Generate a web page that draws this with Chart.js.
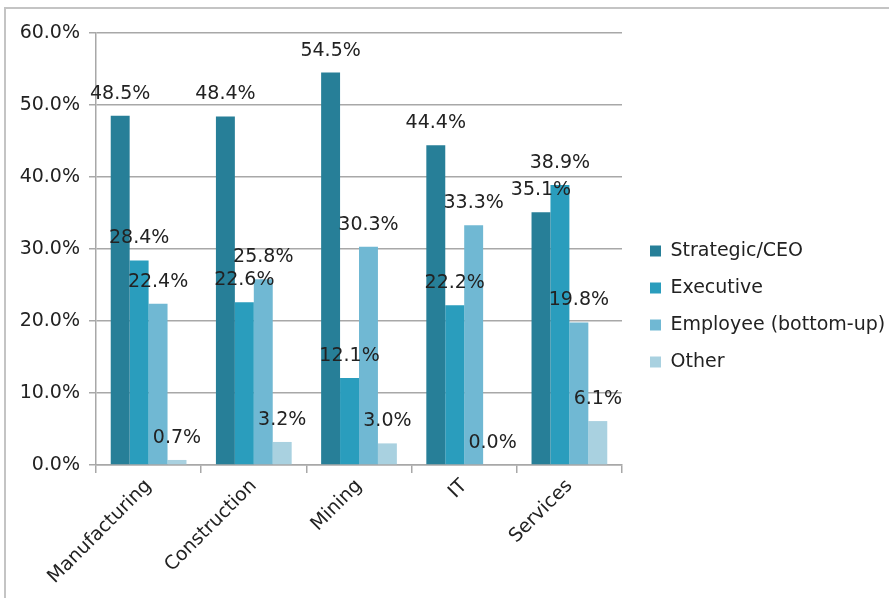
<!DOCTYPE html>
<html>
<head>
<meta charset="utf-8">
<script src="https://cdn.jsdelivr.net/npm/chart.js@4"></script>
<style>
  html, body { margin: 0; padding: 0; background: #fff; }
  #wrap { width: 889px; height: 598px; }
</style>
</head>
<body>
<div id="wrap"><canvas id="approachChart" width="889" height="598"></canvas></div>
<script>
// Share of responses per industry, in percent
const industries = ['Manufacturing', 'Construction', 'Mining', 'IT', 'Services'];
const strategicCeo = [48.5, 48.4, 54.5, 44.4, 35.1];
const executive = [28.4, 22.6, 12.1, 22.2, 38.9];
const employee = [22.4, 25.8, 30.3, 33.3, 19.8];
const other = [0.7, 3.2, 3.0, 0.0, 6.1];
const seriesNames = ['Strategic/CEO', 'Executive', 'Employee (bottom-up)', 'Other'];
const yTicks = [0, 10, 20, 30, 40, 50, 60];

const FONT = 'DejaVu Sans';
const TEXT = '#222';
const GRID = '#a8a8a8';
const LEGEND_WIDTH = 267;

// value above every bar
const valueLabels = {
  id: 'valueLabels',
  afterDatasetsDraw(chart) {
    const ctx = chart.ctx;
    ctx.save();
    ctx.font = '19px "' + FONT + '"';
    ctx.fillStyle = TEXT;
    ctx.textAlign = 'center';
    ctx.textBaseline = 'middle';
    chart.data.datasets.forEach((ds, di) => {
      chart.getDatasetMeta(di).data.forEach((bar, i) => {
        ctx.fillText(ds.data[i].toFixed(1) + '%', bar.x, bar.y - 22);
      });
    });
    ctx.restore();
  }
};

// the layout caps a side legend at a quarter of the width, so widen it by hand
const wideLegend = {
  id: 'wideLegend',
  beforeLayout(chart) {
    const lg = chart.legend;
    if (!lg || lg._wide) return;
    lg._wide = true;
    const fit = lg.fit;
    lg.fit = function () {
      fit.call(this);
      this.width = LEGEND_WIDTH;
    };
  },
  afterLayout(chart) {
    const lg = chart.legend;
    if (!lg) return;
    lg.left += 10;
    lg.top -= 9;
    lg.bottom -= 9;
  }
};

// thin grey frame along the top and left edge
const frame = {
  id: 'frame',
  beforeDraw(chart) {
    const ctx = chart.ctx;
    ctx.save();
    ctx.fillStyle = '#fff';
    ctx.fillRect(0, 0, chart.width, chart.height);
    ctx.strokeStyle = '#c4c4c4';
    ctx.lineWidth = 2;
    ctx.beginPath();
    ctx.moveTo(5, chart.height);
    ctx.lineTo(5, 8);
    ctx.lineTo(chart.width, 8);
    ctx.stroke();
    ctx.restore();
  }
};

const colors = ['#277f98', '#2a9dbd', '#70b8d3', '#a9d1e0'];
const values = [strategicCeo, executive, employee, other];

new Chart(document.getElementById('approachChart'), {
  type: 'bar',
  data: {
    labels: industries,
    datasets: seriesNames.map((name, k) => ({
      label: name,
      data: values[k],
      backgroundColor: colors[k],
      borderWidth: 0,
      categoryPercentage: 0.72,
      barPercentage: 1.0
    }))
  },
  options: {
    responsive: false,
    animation: false,
    layout: { padding: { left: 0, top: 33, right: 0, bottom: 0 } },
    plugins: {
      legend: {
        position: 'right',
        labels: {
          font: { family: FONT, size: 19 },
          color: TEXT,
          boxWidth: 11,
          boxHeight: 11,
          padding: 18
        }
      },
      tooltip: { enabled: false }
    },
    scales: {
      x: {
        afterFit(scale) { scale.height = 133; },
        grid: {
          drawOnChartArea: false,
          drawTicks: true,
          tickLength: 8,
          color: GRID,
          lineWidth: 1.5
        },
        border: { display: true, color: GRID, width: 1.5 },
        ticks: {
          font: { family: FONT, size: 19 },
          color: TEXT,
          minRotation: 45,
          maxRotation: 45,
          padding: 2
        }
      },
      y: {
        min: yTicks[0],
        max: yTicks[yTicks.length - 1],
        afterFit(scale) { scale.width = 96; },
        afterBuildTicks(scale) { scale.ticks = yTicks.map(v => ({ value: v })); },
        grid: {
          color: GRID,
          lineWidth: 1.5,
          tickLength: 7
        },
        border: { display: true, color: GRID, width: 1.5 },
        ticks: {
          font: { family: FONT, size: 19 },
          color: TEXT,
          padding: 9,
          callback: v => v.toFixed(1) + '%'
        }
      }
    }
  },
  plugins: [frame, wideLegend, valueLabels]
});
</script>
</body>
</html>
